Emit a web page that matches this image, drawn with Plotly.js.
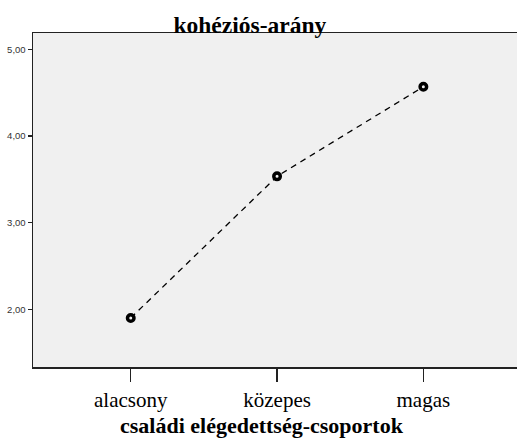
<!DOCTYPE html>
<html>
<head>
<meta charset="utf-8">
<script src="https://cdn.plot.ly/plotly-3.0.1.min.js"></script>
<style>html,body{margin:0;padding:0;background:#fff;}#chart{width:517px;height:439px;}</style>
</head>
<body>
<div id="chart"></div>
<script>
const categories = ["alacsony", "közepes", "magas"];
const values = [1.90, 3.535, 4.57];
const yTickVals = [2, 3, 4, 5];
const yTickText = ["2,00", "3,00", "4,00", "5,00"];
const chartTitle = "kohéziós-arány";
const xTitle = "családi elégedettség-csoportok";

const trace = {
  x: categories,
  y: values,
  type: "scatter",
  mode: "lines+markers",
  line: {color: "#000", width: 1.3, dash: "6px,5px"},
  marker: {symbol: "circle", size: 6.5, color: "#f0f0f0", line: {color: "#000", width: 3.5}},
  hoverinfo: "none"
};

const serif = "Liberation Serif, Times New Roman, serif";

const layout = {
  width: 517, height: 439,
  margin: {l: 33, r: 0, t: 33, b: 72, pad: 0},
  paper_bgcolor: "#ffffff",
  plot_bgcolor: "#f0f0f0",
  showlegend: false,
  title: {
    text: "<b>" + chartTitle + "</b>",
    font: {family: serif, size: 23.5, color: "#000"},
    x: 0.448, xanchor: "center", xref: "paper",
    y: 1, yanchor: "bottom", yref: "paper", pad: {b: 0}
  },
  xaxis: {
    type: "category",
    range: [-0.668, 2.64],
    showgrid: false, zeroline: false,
    showline: true, linecolor: "#222", linewidth: 1.5, mirror: true,
    ticks: "outside", ticklen: 13, tickwidth: 1.2, tickcolor: "#222",
    tickfont: {family: serif, size: 21, color: "#000"}
  },
  yaxis: {
    range: [1.334, 5.19],
    showgrid: false, zeroline: false,
    showline: true, linecolor: "#222", linewidth: 1.5, mirror: true,
    ticks: "outside", ticklen: 4, tickwidth: 1.2, tickcolor: "#222",
    tickvals: yTickVals, ticktext: yTickText,
    tickfont: {family: "Liberation Sans, Arial, sans-serif", size: 9.5, color: "#333"}
  },
  annotations: [{
    text: "<b>" + xTitle + "</b>",
    font: {family: serif, size: 22, color: "#000"},
    xref: "paper", yref: "paper",
    x: (262 - 33) / 484, y: -0.1737,
    xanchor: "center", yanchor: "middle",
    showarrow: false
  }]
};

Plotly.newPlot("chart", [trace], layout, {staticPlot: true, displayModeBar: false});
</script>
</body>
</html>
